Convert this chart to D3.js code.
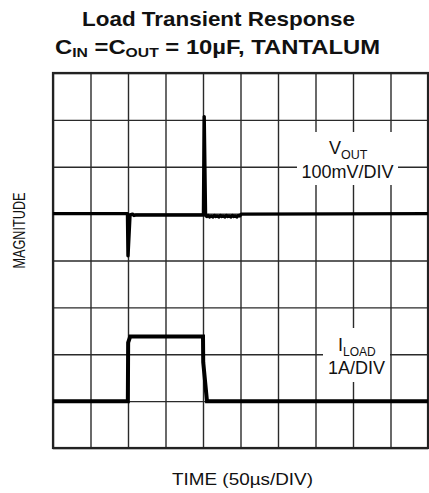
<!DOCTYPE html>
<html>
<head>
<meta charset="utf-8">
<script src="https://cdn.jsdelivr.net/npm/d3@7"></script>
<style>
  body { margin: 0; background: #fff; }
  text { font-family: "Liberation Sans", Arial, Helvetica, sans-serif; fill: #111; }
</style>
</head>
<body>
<div id="chart"></div>
<script>
// time axis: 10 divisions of 50us, vertical: 8 divisions
var timeTicks = [0, 50, 100, 150, 200, 250, 300, 350, 400, 450, 500];
var divTicks = [0, 1, 2, 3, 4, 5, 6, 7, 8];

// V_OUT deviation (mV), 100mV/DIV, centred on division 5
var voutTime = [0, 99.3, 100, 102.7, 104, 106, 108, 110, 150, 199.5, 200.6, 201.6, 203.4,
  205, 207, 209, 211, 213, 215, 217, 219, 221, 223, 225, 227, 229, 231, 233, 235, 237, 239, 241, 243, 245, 247, 249, 251, 500];
var voutMv = [0, 0, -90, -3, -2, -1, -4, -3, -3, -3, 0, 207, -4,
  -6, -4, -7, -5, -7, -4, -6, -5, -7, -4, -6, -5, -7, -4, -6, -5, -7, -4, -6, -5, -7, -4, -5, -1, 0];

// I_LOAD (A), 1A/DIV, zero on division 1
var iloadTime = [0, 99.8, 100.2, 103, 200, 200.3, 205.3, 500];
var iloadAmp = [0, 0, 1.25, 1.38, 1.38, 0.83, 0, 0];

var W = 429, H = 493;
var gLeft = 53, gRight = 428, gTop = 73, gBottom = 448;

var svg = d3.select("#chart").append("svg")
  .attr("width", W)
  .attr("height", H);

var x = d3.scaleLinear().domain([0, 500]).range([gLeft, gRight]);
var y = d3.scaleLinear().domain([0, 8]).range([gBottom, gTop]);

// grid from the axis generators
svg.append("g")
  .attr("class", "grid-x")
  .attr("transform", "translate(0," + gBottom + ")")
  .call(d3.axisBottom(x).tickValues(timeTicks).tickSize(-(gBottom - gTop)).tickFormat(""));

svg.append("g")
  .attr("class", "grid-y")
  .attr("transform", "translate(" + gLeft + ",0)")
  .call(d3.axisLeft(y).tickValues(divTicks).tickSize(-(gRight - gLeft)).tickFormat(""));

svg.selectAll(".grid-x .domain, .grid-y .domain").remove();
svg.selectAll(".grid-x line, .grid-y line")
  .attr("stroke", "#2a2a2a")
  .attr("stroke-width", 1.4);

// outer frame
svg.append("rect")
  .attr("x", gLeft)
  .attr("y", gTop)
  .attr("width", gRight - gLeft)
  .attr("height", gBottom - gTop)
  .attr("fill", "none")
  .attr("stroke", "#222")
  .attr("stroke-width", 2.2);

// label patches hide the grid under the trace names
svg.append("rect")
  .attr("x", 297).attr("y", 132).attr("width", 101).attr("height", 53)
  .attr("fill", "#fff");
svg.append("rect")
  .attr("x", 323).attr("y", 328).attr("width", 67).attr("height", 54)
  .attr("fill", "#fff");

var voutLine = d3.line()
  .x(function(d) { return x(d[0]); })
  .y(function(d) { return y(5 + d[1] / 100); });

var iloadLine = d3.line()
  .x(function(d) { return x(d[0]); })
  .y(function(d) { return y(1 + d[1]); });

svg.append("path")
  .datum(d3.zip(voutTime, voutMv))
  .attr("d", voutLine)
  .attr("fill", "none")
  .attr("stroke", "#000")
  .attr("stroke-width", 3.4)
  .attr("stroke-linejoin", "round");

svg.append("path")
  .datum(d3.zip(iloadTime, iloadAmp))
  .attr("d", iloadLine)
  .attr("fill", "none")
  .attr("stroke", "#000")
  .attr("stroke-width", 4)
  .attr("stroke-linejoin", "miter");

// trace labels
var vl = svg.append("text").attr("x", 329).attr("y", 154).attr("font-size", 18);
vl.append("tspan").text("V");
vl.append("tspan").attr("dy", 5).attr("font-size", 12.5).text("OUT");
svg.append("text")
  .attr("x", 347.5).attr("y", 178)
  .attr("text-anchor", "middle")
  .attr("font-size", 18)
  .text("100mV/DIV");

var il = svg.append("text").attr("x", 338).attr("y", 351).attr("font-size", 18);
il.append("tspan").text("I");
il.append("tspan").attr("dy", 5).attr("font-size", 12).text("LOAD");
svg.append("text")
  .attr("x", 356.5).attr("y", 374)
  .attr("text-anchor", "middle")
  .attr("font-size", 18)
  .text("1A/DIV");

// titles
svg.append("text")
  .attr("x", 218.5).attr("y", 26)
  .attr("text-anchor", "middle")
  .attr("font-size", 20.5)
  .attr("font-weight", "bold")
  .attr("textLength", 273)
  .attr("lengthAdjust", "spacingAndGlyphs")
  .text("Load Transient Response");

var t2 = svg.append("text")
  .attr("x", 217.5).attr("y", 54)
  .attr("text-anchor", "middle")
  .attr("font-size", 20.5)
  .attr("font-weight", "bold")
  .attr("textLength", 325)
  .attr("lengthAdjust", "spacingAndGlyphs");
t2.append("tspan").text("C");
t2.append("tspan").attr("dy", 3).attr("font-size", 13.5).text("IN");
t2.append("tspan").attr("dy", -3).text(" =C");
t2.append("tspan").attr("dy", 3).attr("font-size", 13.5).text("OUT");
t2.append("tspan").attr("dy", -3).text(" = 10µF, TANTALUM");

svg.append("text")
  .attr("transform", "translate(25,230.5) rotate(-90)")
  .attr("text-anchor", "middle")
  .attr("font-size", 17)
  .attr("textLength", 76)
  .attr("lengthAdjust", "spacingAndGlyphs")
  .text("MAGNITUDE");

svg.append("text")
  .attr("x", 242.5).attr("y", 485)
  .attr("text-anchor", "middle")
  .attr("font-size", 16.5)
  .attr("textLength", 141)
  .attr("lengthAdjust", "spacingAndGlyphs")
  .text("TIME (50µs/DIV)");
</script>
</body>
</html>
